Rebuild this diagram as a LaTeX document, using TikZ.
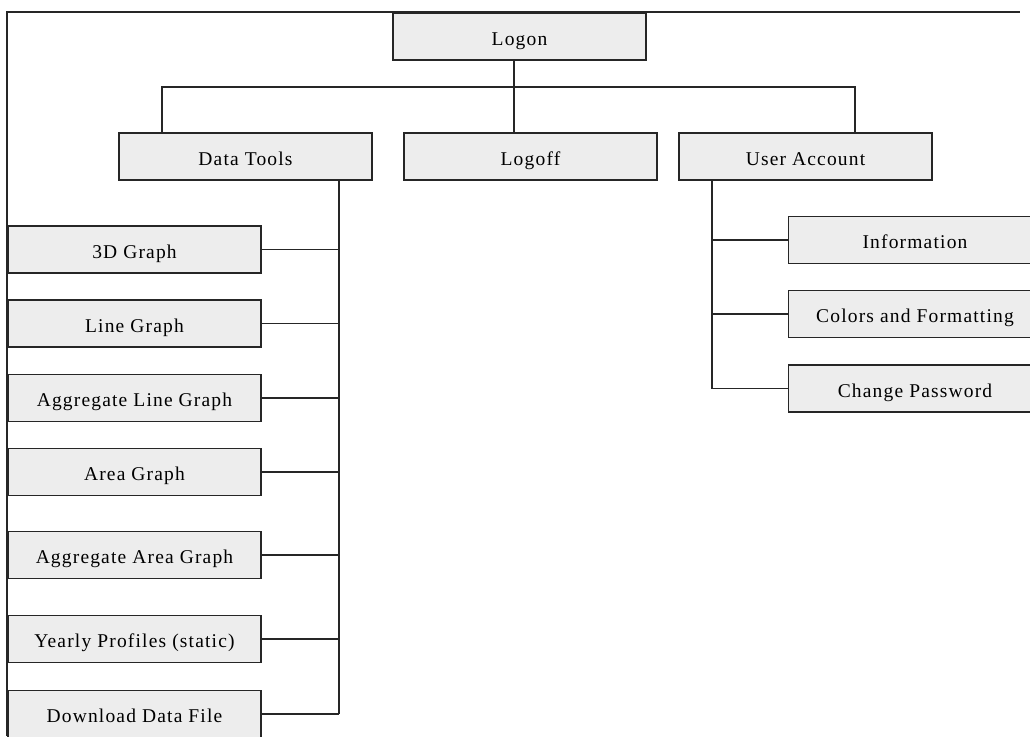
\documentclass[tikz,border=0pt]{standalone}
\usepackage{fontspec}
\setmainfont{Liberation Serif}[LetterSpace=6]

\tikzset{
	menubox/.style={draw=black!85, fill=black!7, line width=1.4pt, minimum width=253pt, minimum height=47pt, inner sep=0pt, text height=17pt, text depth=0pt, font=\fontsize{19.5}{22}\selectfont},
	link/.style={draw=black!85, line width=1.4pt}
}

\begin{document}
\begin{tikzpicture}[x=1pt,y=-1pt]
	\clip (0,0) rectangle (1030,736);
	\fill[white] (0,0) rectangle (1030,736);
	\draw[link] (7,736)--(7,12)--(1020,12);		%frame
	%TOP LEVEL
	\node[menubox] (logon) at (519.5,36.5) {Logon};
	\node[menubox] (datatools) at (245.5,156.5) {Data Tools};
	\node[menubox] (logoff) at (530.5,156.5) {Logoff};
	\node[menubox] (useracct) at (805.5,156.5) {User Account};
	\coordinate (busM) at (514,87);
	\coordinate (busL) at (162,87);
	\coordinate (busR) at (855,87);
	\draw[link] (logon.south -| busM)--(logoff.north -| busM);
	\draw[link] (datatools.north -| busL)--(busL)--(busR)--(useracct.north -| busR);
	%DATA TOOLS
	\coordinate (dtrunk) at (339,0);
	\foreach \nm/\y/\txt in {graphA/249.5/3D Graph, graphB/323.5/Line Graph, graphC/398/Aggregate Line Graph, graphD/472/Area Graph, graphE/555/Aggregate Area Graph, graphF/639/Yearly Profiles (static), graphG/714/Download Data File}{
		\node[menubox] (\nm) at (134.5,\y) {\txt};
		\draw[link] (\nm.east)--(\nm.east -| dtrunk);
	}
	\draw[link] (datatools.south -| dtrunk)--(graphG.east -| dtrunk);
	%USER ACCOUNT
	\coordinate (utrunk) at (712,0);
	\foreach \nm/\y/\txt in {acctA/240/Information, acctB/314/Colors and Formatting, acctC/388.5/Change Password}{
		\node[menubox] (\nm) at (915,\y) {\txt};
		\draw[link] (\nm.west)--(\nm.west -| utrunk);
	}
	\draw[link] (useracct.south -| utrunk)--(acctC.west -| utrunk);
\end{tikzpicture}
\end{document}
